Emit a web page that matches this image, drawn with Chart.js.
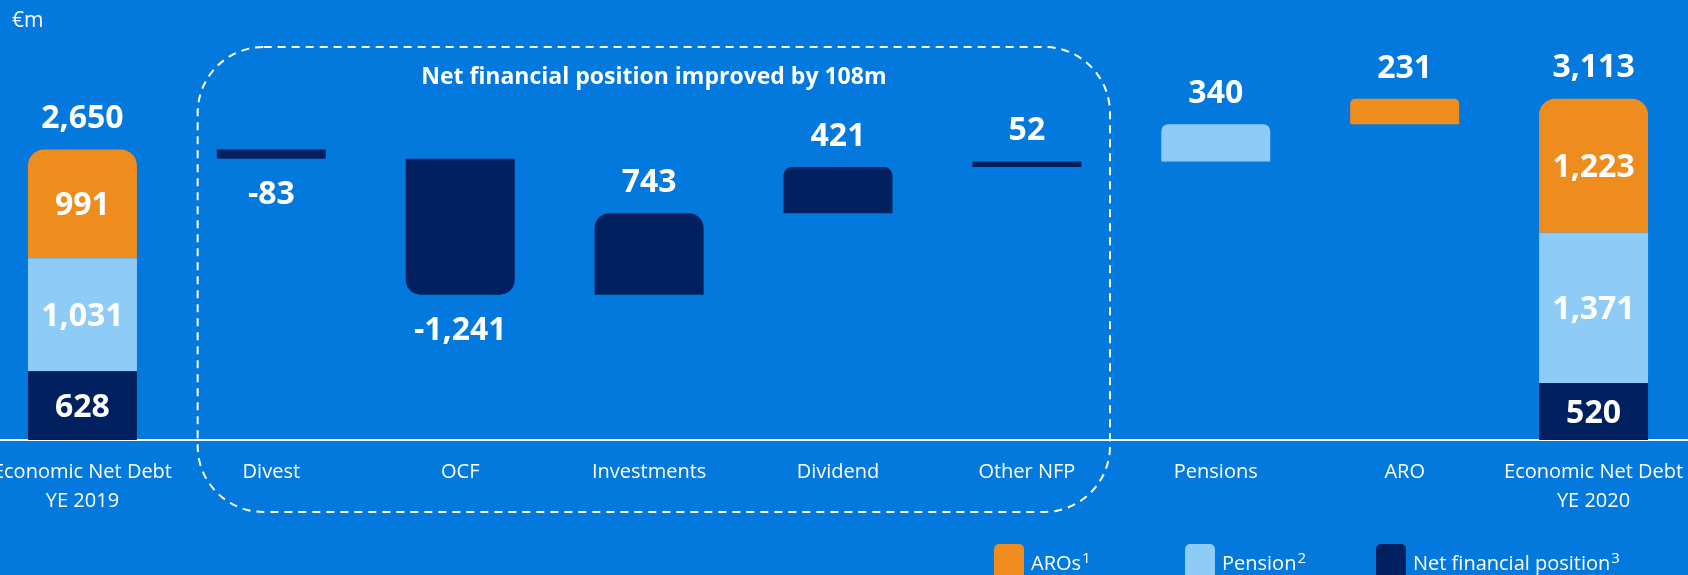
<!DOCTYPE html>
<html>
<head>
<meta charset="utf-8">
<script src="https://cdn.jsdelivr.net/npm/chart.js@4"></script>
<style>
  html, body { margin: 0; padding: 0; background: #0378DD; overflow: hidden; }
  #wrap { position: absolute; left: -12px; top: 0; width: 1700px; height: 575px; }
</style>
</head>
<body>
<div id="wrap"><canvas id="chart"></canvas></div>
<script>
const categories = [["Economic Net Debt", "YE 2019"], "Divest", "OCF", "Investments", "Dividend", "Other NFP", "Pensions", "ARO", ["Economic Net Debt", "YE 2020"]];
const seriesNames = ["Net financial position", "Pension", "AROs"];
const footnotes = ["3", "2", "1"];
const startSplit = [628, 1031, 991];   // YE 2019, per series
const endSplit = [520, 1371, 1223];    // YE 2020, per series
const totals = [2650, 3113];
const moves = [-83, -1241, 743, 421, 52, 340, 231];
const moveSeries = [0, 0, 0, 0, 0, 1, 2]; // series of each move

const colors = ["#00205F", "#8FCBF7", "#EE8C1E"];
const n = categories.length;

// floating bars: totals stacked by hand, moves as a waterfall
const datasets = seriesNames.map((name, s) => ({
  label: name,
  data: new Array(n).fill(null),
  backgroundColor: colors[s]
}));
function stackInto(col, split) {
  let base = 0;
  split.forEach((v, s) => { datasets[s].data[col] = [base, base + v]; base += v; });
}
stackInto(0, startSplit);
stackInto(n - 1, endSplit);
let run = totals[0];
moves.forEach((v, i) => {
  datasets[moveSeries[i]].data[i + 1] = [run, run + v];
  run += v;
});

const fmt = v => v.toLocaleString("en-US");

const labelPlugin = {
  id: "labels",
  afterDatasetsDraw(chart) {
    const ctx = chart.ctx;
    const cap = 23;
    ctx.save();
    ctx.fillStyle = "#fff";
    ctx.textAlign = "center";
    ctx.textBaseline = "alphabetic";
    ctx.font = "bold 32px 'Open Sans'";
    chart.data.datasets.forEach((ds, s) => {
      chart.getDatasetMeta(s).data.forEach((bar, i) => {
        if (!ds.data[i]) return;
        const top = Math.min(bar.y, bar.base), bottom = Math.max(bar.y, bar.base);
        if (i === 0 || i === n - 1) {
          const split = i === 0 ? startSplit : endSplit;
          ctx.fillText(fmt(split[s]), bar.x, (top + bottom) / 2 + cap / 2);
          if (s === seriesNames.length - 1) ctx.fillText(fmt(totals[i === 0 ? 0 : 1]), bar.x, top - 22);
        } else {
          const v = moves[i - 1];
          if (v >= 0) ctx.fillText(fmt(v), bar.x, top - 21);
          else ctx.fillText(fmt(v), bar.x, bottom + 22 + cap);
        }
      });
    });
    ctx.restore();
  }
};

const decoPlugin = {
  id: "deco",
  afterDraw(chart) {
    const { ctx, scales: { x }, chartArea } = chart;
    const catW = x.width / n;
    ctx.save();
    ctx.fillStyle = "#fff";
    ctx.textBaseline = "alphabetic";
    ctx.font = "21px 'Open Sans'";
    ctx.textAlign = "left";
    ctx.fillText("€m", 24, 27);

    // dashed frame round the net financial position moves
    const left = x.getPixelForTick(1) - catW * 0.39;
    const right = x.getPixelForTick(5) + catW * 0.44;
    const top = chartArea.top + 7, bottom = chartArea.bottom + 72;
    ctx.strokeStyle = "#fff";
    ctx.lineWidth = 2;
    ctx.setLineDash([8, 6]);
    ctx.beginPath();
    ctx.roundRect(left, top, right - left, bottom - top, 66);
    ctx.stroke();
    ctx.setLineDash([]);
    ctx.font = "bold 23px 'Open Sans'";
    ctx.textAlign = "center";
    ctx.fillText("Net financial position improved by 108m", (left + right) / 2, top + 37);

    // legend
    ctx.textAlign = "left";
    [2, 1, 0].forEach((s, k) => {
      const bx = 1006 + k * 191;
      ctx.fillStyle = colors[s];
      ctx.beginPath();
      ctx.roundRect(bx, 544, 30, 40, 5);
      ctx.fill();
      ctx.fillStyle = "#fff";
      ctx.font = "20px 'Open Sans'";
      ctx.fillText(seriesNames[s], bx + 37, 570);
      const w = ctx.measureText(seriesNames[s]).width;
      ctx.font = "15px 'Open Sans'";
      ctx.fillText(footnotes[s], bx + 38 + w, 563);
    });
    ctx.restore();
  }
};

new Chart(document.getElementById("chart"), {
  type: "bar",
  data: { labels: categories, datasets },
  options: {
    responsive: true,
    maintainAspectRatio: false,
    animation: false,
    layout: { padding: { top: 40, left: 0, right: 0, bottom: 0 } },
    datasets: {
      bar: {
        categoryPercentage: 0.577,
        barPercentage: 1,
        borderSkipped: false,
        borderRadius: c => {
          const raw = c.raw;
          if (!raw) return 0;
          const none = { topLeft: 0, topRight: 0, bottomLeft: 0, bottomRight: 0 };
          if (c.dataIndex === 0 || c.dataIndex === n - 1) {
            return c.datasetIndex === seriesNames.length - 1 ? { topLeft: 16, topRight: 16, bottomLeft: 0, bottomRight: 0 } : none;
          }
          const r = Math.min(15, Math.abs(raw[1] - raw[0]) / 50);
          return raw[1] >= raw[0]
            ? { topLeft: r, topRight: r, bottomLeft: 0, bottomRight: 0 }
            : { topLeft: 0, topRight: 0, bottomLeft: r, bottomRight: r };
        }
      }
    },
    plugins: {
      legend: { display: false },
      tooltip: { enabled: false }
    },
    scales: {
      x: {
        stacked: true,
        grid: { display: false },
        border: { display: true, color: "#fff", width: 2 },
        ticks: {
          color: "#fff",
          font: { family: "'Open Sans'", size: 20, lineHeight: 1.45 },
          padding: 10,
          maxRotation: 0,
          autoSkip: false
        },
        // outer labels may run past the edges, as in the slide
        afterFit: scale => {
          scale.height = 135;
          scale.paddingLeft = 0;
          scale.paddingRight = 0;
        }
      },
      y: {
        display: false,
        stacked: false,
        min: 0,
        max: 3650
      }
    }
  },
  plugins: [labelPlugin, decoPlugin]
});
</script>
</body>
</html>
